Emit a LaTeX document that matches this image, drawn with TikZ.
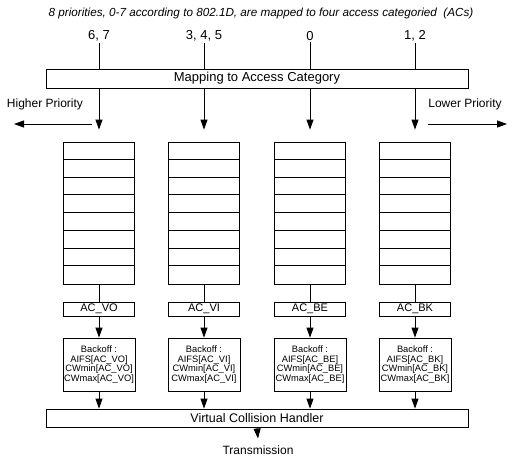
\documentclass[tikz,border=0pt]{standalone}
\usepackage{fontspec}
\setmainfont{Liberation Sans}
\usetikzlibrary{arrows.meta}
\begin{document}
\begin{tikzpicture}[x=1pt,y=-1pt,
  line width=0.8pt,
  box/.style={draw, inner sep=0pt, line width=0.8pt},
  queue/.style={box, minimum width=71pt, minimum height=142pt},
  acbox/.style={box, minimum width=71pt, minimum height=14pt, font=\fontsize{11}{11}\selectfont},
  bobox/.style={box, minimum width=72pt, minimum height=53pt, align=center, font=\fontsize{9.3}{9.4}\selectfont},
  wide/.style={box, minimum width=422pt},
  num/.style={font=\fontsize{13}{13}\selectfont, inner sep=1pt},
  side/.style={font=\fontsize{12}{12}\selectfont, inner sep=1pt},
  arr/.style={-{Triangle[length=10pt,width=7pt]}, line width=0.8pt}
]
\useasboundingbox (0,0) rectangle (513,456);
\node[font=\fontsize{11.7}{11.7}\selectfont\itshape] (title) at (261,13) {8 priorities, 0-7 according to 802.1D, are mapped to four access categoried\ \ (ACs)};
\node[wide, minimum height=19pt, font=\fontsize{13}{13}\selectfont] (map) at (257,78.5) {Mapping to Access Category};
\node[wide, minimum height=18pt, font=\fontsize{12.5}{12.5}\selectfont] (vch) at (257,418) {Virtual Collision Handler};

\foreach \i/\cx/\p/\ac in {1/99/{6, 7}/VO, 2/204/{3, 4, 5}/VI, 3/310/0/BE, 4/415/{1, 2}/BK}{
  \node[num] (p\i) at (\cx,36) {\p};
  \draw (p\i.south) -- (map.north -| p\i);
  \node[queue] (q\i) at (\cx,213) {};
  \foreach \k in {1,...,7}{
    \draw (q\i.north west) ++(0,\k*17.75) -- ++(71,0);
  }
  \draw[arr] (map.south -| q\i) -- ([yshift=12pt]q\i.north);
  \node[acbox] (a\i) at (\cx,309) {AC\_\ac};
  \draw (q\i.south) -- (a\i.north);
  \node[bobox] (b\i) at (\cx,364.5) {Backoff :\\AIFS[AC\_\ac]\\CWmin[AC\_\ac]\\CWmax[AC\_\ac]};
  \draw[arr] (a\i.south) -- (b\i.north);
  \draw[arr] (b\i.south) -- (vch.north -| b\i);
}

\node[side] (hp) at (45,104) {Higher Priority};
\coordinate (hl0) at (92,124);
\coordinate (hl1) at (14,124);
\draw[arr] (hl0) -- (hl1);
\node[side] (lp) at (465,104) {Lower Priority};
\coordinate (lr0) at (428,124);
\coordinate (lr1) at (507,124);
\draw[arr] (lr0) -- (lr1);

\node[font=\fontsize{12}{12}\selectfont, inner sep=1pt] (tx) at (258,450) {Transmission};
\coordinate (txa) at (258,438.5);
\draw[arr] (vch.south) -- (txa);
\end{tikzpicture}
\end{document}
